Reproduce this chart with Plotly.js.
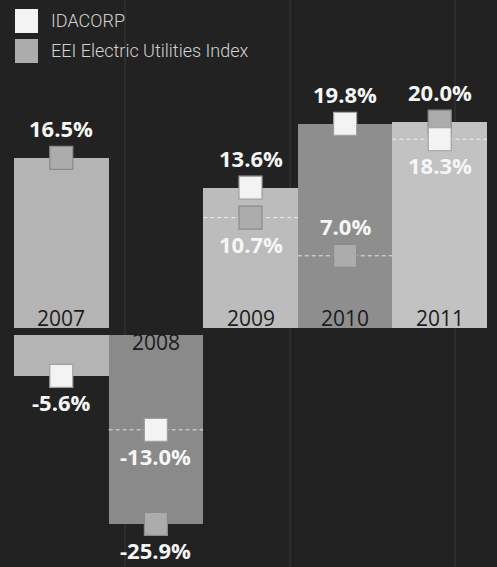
<!DOCTYPE html>
<html><head><meta charset="utf-8">
<script src="https://cdn.plot.ly/plotly-3.0.1.min.js"></script>
<style>html,body{margin:0;padding:0;background:#222;}</style>
</head><body><div id="chart" style="width:497px;height:567px;"></div>
<script>
const years = [2007, 2008, 2009, 2010, 2011];
const idacorp = [-5.6, -13.0, 13.6, 19.8, 18.3];
const eei = [16.5, -25.9, 10.7, 7.0, 20.0];
const seriesNames = ['IDACORP', 'EEI Electric Utilities Index'];
const barColors = ['#b4b4b4', '#8a8a8a', '#bcbcbc', '#8e8e8e', '#c2c2c2'];
const markerFill = ['#f3f3f3', '#acacac'];
const markerEdge = ['#a0a0a0', '#8a8a8a'];

const series = [idacorp, eei];
const pos = arr => arr.map(v => v > 0 ? v : null);
const neg = arr => arr.map(v => v < 0 ? v : null);

const traces = [];
// bars (both series overlaid, same colour per year)
series.forEach((s, k) => {
  [['y', pos], ['y2', neg]].forEach(([ax, f]) => {
    traces.push({type: 'bar', x: years, y: f(s), yaxis: ax, xaxis: 'x',
      marker: {color: barColors, line: {width: 0}}, hoverinfo: 'skip', showlegend: false});
  });
});
// dashed line at the inner value of each column
const dl = {y: {x: [], y: []}, y2: {x: [], y: []}};
years.forEach((yr, i) => {
  const a = idacorp[i], e = eei[i];
  if (a * e > 0) {
    const inner = Math.abs(a) < Math.abs(e) ? a : e;
    const d = inner > 0 ? dl.y : dl.y2;
    d.x.push(yr - 0.5, yr + 0.5, null);
    d.y.push(inner, inner, null);
  }
});
['y', 'y2'].forEach(ax => {
  traces.push({type: 'scatter', mode: 'lines', x: dl[ax].x, y: dl[ax].y, yaxis: ax, xaxis: 'x',
    line: {color: 'rgba(255,255,255,0.75)', width: 1, dash: '4px,3px'}, hoverinfo: 'skip', showlegend: false});
});
// markers
[1, 0].forEach(k => {
  [['y', pos], ['y2', neg]].forEach(([ax, f]) => {
    traces.push({type: 'scatter', mode: 'markers', name: seriesNames[k], x: years, y: f(series[k]),
      yaxis: ax, xaxis: 'x', cliponaxis: false, showlegend: false,
      marker: {symbol: 'square', size: 23, color: markerFill[k], line: {color: markerEdge[k], width: 1.2}}});
  });
});

const annotations = [];
const valFont = {family: 'Open Sans, DejaVu Sans, sans-serif', size: 22, color: '#f6f6f6', weight: 700};
years.forEach((yr, i) => {
  series.forEach((s, k) => {
    const v = s[i], other = series[1 - k][i];
    let dir = v > 0 ? 1 : -1;
    const inner = v * other > 0 && Math.abs(v) < Math.abs(other);
    if (inner && Math.abs(other) - Math.abs(v) < 5) dir = -dir;
    annotations.push({x: yr, y: v, xref: 'x', yref: v > 0 ? 'y' : 'y2', text: v.toFixed(1) + '%',
      showarrow: false, yanchor: 'middle', yshift: dir > 0 ? 30 : -26, font: valFont});
  });
  const up = Math.max(idacorp[i], eei[i]) > 0;
  annotations.push({x: yr, y: 0, xref: 'x', yref: up ? 'y' : 'y2', text: String(yr), showarrow: false,
    yanchor: 'middle', yshift: up ? 10 : -7,
    font: {family: 'Open Sans, DejaVu Sans, sans-serif', size: 21, color: '#1b1b1b'}});
});
// legend (drawn by hand to match the large square keys)
const legFont = {family: 'Roboto, sans-serif', size: 18, color: '#d2d2d2', weight: 300};
const shapes = [];
seriesNames.forEach((nm, k) => {
  const top = 9 + k * 30;
  shapes.push({type: 'rect', xref: 'paper', yref: 'paper', x0: 15 / 497, x1: 38 / 497,
    y0: 1 - (top + 24) / 567, y1: 1 - top / 567, fillcolor: markerFill[k], line: {width: 0}, layer: 'above'});
  annotations.push({xref: 'paper', yref: 'paper', x: 49 / 497, y: 1 - (top + 11) / 567, text: nm,
    showarrow: false, xanchor: 'left', yanchor: 'middle', font: legFont});
});
// faint page column lines
[125, 290, 455].forEach(px => {
  shapes.push({type: 'line', xref: 'paper', yref: 'paper', x0: px / 497, x1: px / 497, y0: 0, y1: 1,
    line: {color: 'rgba(255,255,255,0.10)', width: 1}, layer: 'below'});
});

const layout = {
  width: 497, height: 567,
  margin: {l: 0, r: 0, t: 0, b: 0},
  paper_bgcolor: '#222222', plot_bgcolor: 'rgba(0,0,0,0)',
  barmode: 'overlay', bargap: 0, showlegend: false,
  xaxis: {domain: [14 / 497, 487 / 497], range: [2006.5, 2011.5], visible: false, anchor: 'y'},
  yaxis: {domain: [1 - 328 / 567, 1], range: [0, 31.8], visible: false, anchor: 'x'},
  yaxis2: {domain: [0, 1 - 335 / 567], range: [-31.8, 0], visible: false, anchor: 'x'},
  annotations: annotations, shapes: shapes
};
Plotly.newPlot('chart', traces, layout, {staticPlot: true, displayModeBar: false});
</script></body></html>
